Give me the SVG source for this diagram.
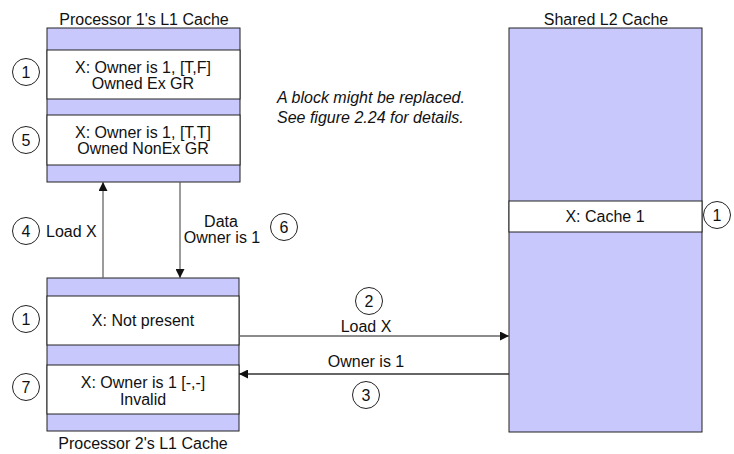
<svg xmlns="http://www.w3.org/2000/svg" width="734" height="454" viewBox="0 0 734 454">
  <style>
    text { font-family: "Liberation Sans", Arial, sans-serif; font-size: 16px; fill: #111; }
    .mid { text-anchor: middle; }
    .note { font-style: italic; }
    .band { fill: #c8c8fc; stroke: #222; stroke-width: 1; }
    .slot { fill: #ffffff; stroke: #222; stroke-width: 1; }
    .step { fill: #ffffff; stroke: #222; stroke-width: 1; }
    .link { stroke: #666; stroke-width: 1.3; fill: none; }
    .dark { stroke: #333; }
  </style>
  <defs>
    <marker id="tip" viewBox="0 0 10 10" refX="10" refY="5" markerWidth="9" markerHeight="9" markerUnits="userSpaceOnUse" orient="auto">
      <path d="M0,0 L10,5 L0,10 z" fill="#111"/>
    </marker>
  </defs>

  <rect width="734" height="454" fill="#ffffff"/>

  <!-- Processor 1's L1 cache -->
  <g id="p1-cache">
    <text class="mid" x="144" y="25">Processor 1's L1 Cache</text>
    <rect class="band" x="47" y="28" width="193" height="154"/>
    <rect class="slot" x="47" y="50" width="193" height="49"/>
    <text class="mid" x="143" y="72.5">X: Owner is 1, [T,F]</text>
    <text class="mid" x="143" y="88.5">Owned Ex GR</text>
    <rect class="slot" x="47" y="115" width="193" height="50"/>
    <text class="mid" x="143" y="138">X: Owner is 1, [T,T]</text>
    <text class="mid" x="143" y="154">Owned NonEx GR</text>
  </g>

  <!-- Processor 2's L1 cache -->
  <g id="p2-cache">
    <rect class="band" x="47" y="278" width="192" height="153"/>
    <rect class="slot" x="47" y="296" width="192" height="49"/>
    <text class="mid" x="143" y="325.5">X: Not present</text>
    <rect class="slot" x="47" y="365" width="192" height="49"/>
    <text class="mid" x="143" y="388">X: Owner is 1 [-,-]</text>
    <text class="mid" x="143" y="405">Invalid</text>
    <text class="mid" x="143" y="449">Processor 2's L1 Cache</text>
  </g>

  <!-- Shared L2 cache -->
  <g id="l2-cache">
    <text class="mid" x="606" y="25">Shared L2 Cache</text>
    <rect class="band" x="509" y="28" width="193" height="404"/>
    <rect class="slot" x="509" y="201" width="193" height="31"/>
    <text class="mid" x="605" y="222">X: Cache 1</text>
  </g>

  <!-- note -->
  <g id="note">
    <text class="note" x="277" y="103">A block might be replaced.</text>
    <text class="note" x="277" y="123">See figure 2.24 for details.</text>
  </g>

  <!-- connectors -->
  <g id="connectors">
    <line class="link" x1="103" y1="278" x2="103" y2="182" marker-end="url(#tip)"/>
    <line class="link" x1="180" y1="182" x2="180" y2="278" marker-end="url(#tip)"/>
    <line class="link" x1="239" y1="336" x2="509" y2="336" marker-end="url(#tip)"/>
    <line class="link dark" x1="509" y1="374" x2="239" y2="374" marker-end="url(#tip)"/>
    <text x="46" y="236.5">Load X</text>
    <text class="mid" x="221" y="226.5">Data</text>
    <text class="mid" x="222" y="243">Owner is 1</text>
    <text class="mid" x="366" y="332">Load X</text>
    <text class="mid" x="366" y="366.5">Owner is 1</text>
  </g>

  <!-- step markers -->
  <g id="steps">
    <circle class="step" cx="26" cy="72" r="13.5"/><text class="mid" x="26" y="77.5">1</text>
    <circle class="step" cx="26" cy="140" r="13.5"/><text class="mid" x="26" y="145.5">5</text>
    <circle class="step" cx="26" cy="231" r="13.5"/><text class="mid" x="26" y="236.5">4</text>
    <circle class="step" cx="284" cy="227" r="13.5"/><text class="mid" x="284" y="232.5">6</text>
    <circle class="step" cx="26" cy="319" r="13.5"/><text class="mid" x="26" y="324.5">1</text>
    <circle class="step" cx="26" cy="387" r="13.5"/><text class="mid" x="26" y="392.5">7</text>
    <circle class="step" cx="369" cy="301" r="13.5"/><text class="mid" x="369" y="306.5">2</text>
    <circle class="step" cx="366" cy="395" r="13.5"/><text class="mid" x="366" y="400.5">3</text>
    <circle class="step" cx="717" cy="215" r="13.5"/><text class="mid" x="717" y="220.5">1</text>
  </g>
</svg>
